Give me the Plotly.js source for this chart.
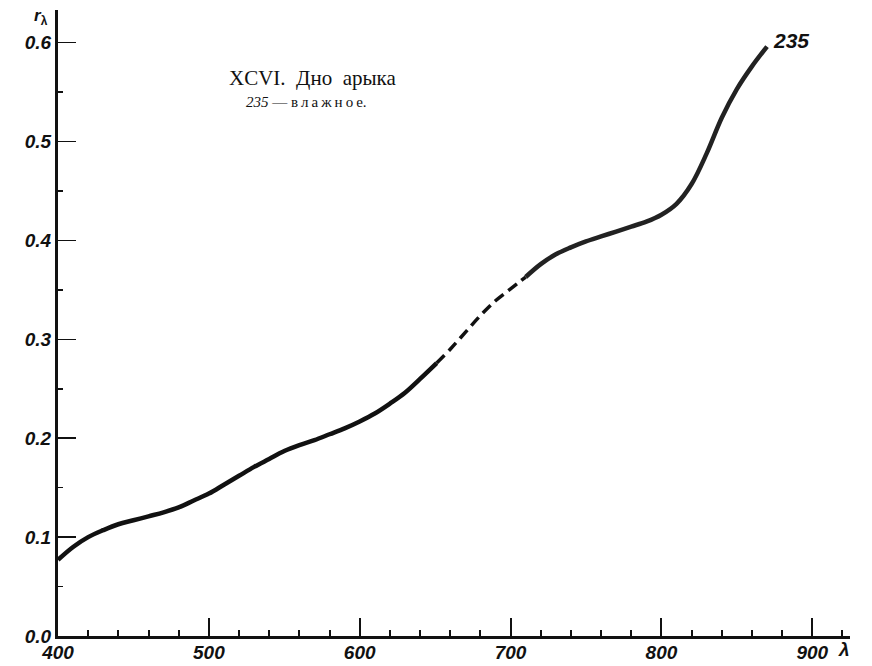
<!DOCTYPE html>
<html>
<head>
<meta charset="utf-8">
<script src="https://cdn.plot.ly/plotly-3.0.1.min.js"></script>
<style>html,body{margin:0;padding:0;background:#fff;}#chart{width:872px;height:666px;}</style>
</head>
<body>
<div id="chart"></div>
<script>
// Wavelength (nm) and spectral brightness coefficient r_lambda, sample 235 (wet)
var wlSolidA = [400, 410, 420, 430, 440, 450, 460, 470, 480, 490, 500, 510, 520, 530, 540, 550, 560, 570, 580, 590, 600, 610, 620, 630, 640, 651];
var rSolidA  = [0.077, 0.090, 0.100, 0.107, 0.113, 0.117, 0.121, 0.125, 0.130, 0.137, 0.144, 0.153, 0.162, 0.171, 0.179, 0.187, 0.193, 0.198, 0.204, 0.210, 0.217, 0.225, 0.235, 0.246, 0.260, 0.276];
var wlDash   = [651, 660, 670, 680, 690, 700, 710];
var rDash    = [0.276, 0.290, 0.307, 0.324, 0.339, 0.351, 0.363];
var wlSolidB = [710, 720, 730, 740, 750, 760, 770, 780, 790, 800, 810, 820, 830, 840, 850, 860, 870];
var rSolidB  = [0.363, 0.376, 0.386, 0.393, 0.399, 0.404, 0.409, 0.414, 0.419, 0.426, 0.437, 0.457, 0.488, 0.524, 0.553, 0.576, 0.596];

var xTicks = [400, 500, 600, 700, 800, 900];
var xTickText = ['400', '500', '600', '700', '800', '900'];
var yTicks = [0, 0.1, 0.2, 0.3, 0.4, 0.5, 0.6];
var yTickText = ['0.0', '0.1', '0.2', '0.3', '0.4', '0.5', '0.6'];

var titleText = 'XCVI.  Дно  арыка';
var subtitleText = '<i>235</i> — в\u2009л\u2009а\u2009ж\u2009н\u2009о\u2009е.';
var curveLabel = '235';

var tickFont = {family: 'Liberation Sans Narrow, Liberation Sans, Arial, sans-serif', size: 19, color: '#111', weight: 'bold', style: 'italic'};

var traces = [
  {x: wlSolidA, y: rSolidA, mode: 'lines', line: {color: '#111', width: 4.5, shape: 'spline', smoothing: 1}, hoverinfo: 'skip'},
  {x: wlDash, y: rDash, mode: 'lines', line: {color: '#111', width: 3.5, shape: 'spline', smoothing: 1, dash: '11px,6px'}, hoverinfo: 'skip'},
  {x: wlSolidB, y: rSolidB, mode: 'lines', line: {color: '#222', width: 4.5, shape: 'spline', smoothing: 1}, hoverinfo: 'skip'}
];

// pixel -> paper helpers for the text placement
var L = 58, R = 22, T = 10, B = 30, W = 872, H = 666;
function px(x) { return (x - L) / (W - L - R); }
function py(y) { return (H - B - y) / (H - T - B); }

var layout = {
  width: W, height: H,
  margin: {l: L, r: R, t: T, b: B},
  paper_bgcolor: '#fff', plot_bgcolor: '#fff',
  showlegend: false,
  xaxis: {
    range: [400, 925], showgrid: false, zeroline: false,
    showline: true, linecolor: '#111', linewidth: 3,
    tickmode: 'array', tickvals: xTicks, ticktext: xTickText,
    ticks: 'inside', ticklen: 18, tickwidth: 2, tickcolor: '#111',
    tickfont: tickFont, ticklabelstandoff: -3,
    minor: {dtick: 20, tick0: 400, ticks: 'inside', ticklen: 6, tickwidth: 2, tickcolor: '#111', showgrid: false}
  },
  yaxis: {
    range: [0, 0.633], showgrid: false, zeroline: false,
    showline: true, linecolor: '#111', linewidth: 3,
    tickmode: 'array', tickvals: yTicks, ticktext: yTickText,
    ticks: 'inside', ticklen: 18, tickwidth: 1.5, tickcolor: '#111',
    tickfont: tickFont,
    minor: {dtick: 0.05, tick0: 0, ticks: 'inside', ticklen: 5, tickwidth: 1.5, tickcolor: '#111', showgrid: false}
  },
  annotations: [
    {xref: 'paper', yref: 'paper', x: px(312), y: py(78), text: titleText, showarrow: false,
     xanchor: 'center', yanchor: 'middle', font: {family: 'Liberation Serif, Times New Roman, serif', size: 21, color: '#111'}},
    {xref: 'paper', yref: 'paper', x: px(306), y: py(102), text: subtitleText, showarrow: false,
     xanchor: 'center', yanchor: 'middle', font: {family: 'Liberation Serif, Times New Roman, serif', size: 15, color: '#111'}},
    {xref: 'x', yref: 'y', x: wlSolidB[wlSolidB.length - 1], y: rSolidB[rSolidB.length - 1], text: curveLabel, showarrow: false,
     xanchor: 'left', yanchor: 'middle', xshift: 4, yshift: 6,
     font: {family: 'Liberation Sans, Arial, sans-serif', size: 21, color: '#111', weight: 'bold', style: 'italic'}},
    {xref: 'paper', yref: 'paper', x: px(844), y: py(649), text: 'λ', showarrow: false,
     xanchor: 'center', yanchor: 'middle', font: {family: 'Liberation Sans, Arial, sans-serif', size: 19, color: '#111', weight: 'bold', style: 'italic'}},
    {xref: 'paper', yref: 'paper', x: px(41), y: py(17), text: '<i>r</i><sub>λ</sub>', showarrow: false,
     xanchor: 'center', yanchor: 'middle', font: {family: 'Liberation Sans, Arial, sans-serif', size: 17, color: '#111', weight: 'bold'}}
  ]
};

Plotly.newPlot('chart', traces, layout, {staticPlot: true, displayModeBar: false});
</script>
</body>
</html>
